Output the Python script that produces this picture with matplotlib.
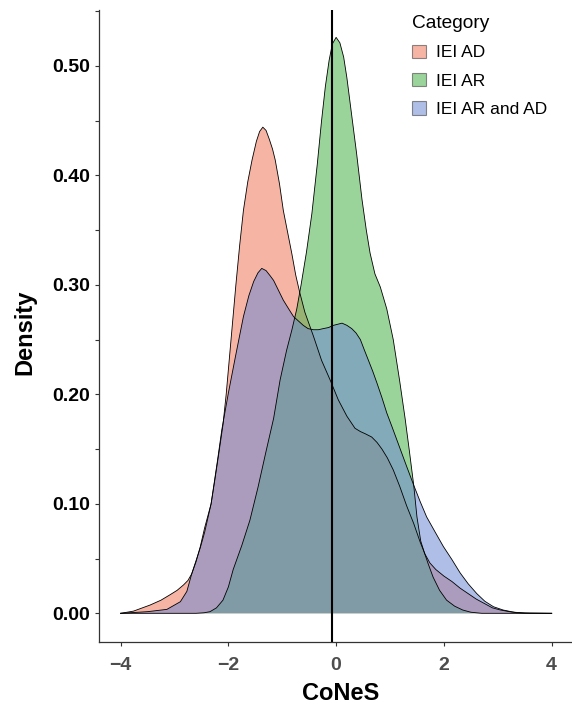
import matplotlib
matplotlib.use('Agg')
import matplotlib.pyplot as plt
from matplotlib.patches import Patch
from matplotlib.ticker import MultipleLocator, FormatStrFormatter

plt.rcParams['font.family'] = ['Liberation Sans', 'DejaVu Sans']

# density curves (CoNeS value, density)
ad_x = [-4.0, -3.76, -3.45, -3.25, -3.08, -2.95, -2.83, -2.75, -2.68, -2.6, -2.52, -2.44,
        -2.38, -2.32, -2.25, -2.18, -2.1, -2.04, -1.95, -1.86, -1.79, -1.72, -1.64, -1.56,
        -1.48, -1.42, -1.36, -1.3, -1.24, -1.18, -1.13, -1.05, -0.98, -0.9, -0.82, -0.75,
        -0.68, -0.58, -0.42, -0.27, -0.11, 0.04, 0.2, 0.35, 0.45, 0.54, 0.66, 0.76, 0.85,
        0.95, 1.06, 1.18, 1.31, 1.44, 1.56, 1.65, 1.74, 1.85, 2.0, 2.15, 2.3, 2.45, 2.6,
        2.75, 2.9, 3.05, 3.25, 3.5, 4.0]
ad_y = [0.0, 0.002, 0.0076, 0.012, 0.017, 0.021, 0.026, 0.030, 0.036, 0.047, 0.061, 0.078,
        0.089, 0.100, 0.122, 0.145, 0.172, 0.200, 0.250, 0.300, 0.336, 0.368, 0.394, 0.414,
        0.431, 0.440, 0.444, 0.441, 0.433, 0.424, 0.414, 0.392, 0.368, 0.348, 0.328, 0.309,
        0.294, 0.275, 0.253, 0.231, 0.213, 0.195, 0.180, 0.169, 0.166, 0.164, 0.161, 0.156,
        0.150, 0.142, 0.131, 0.116, 0.098, 0.082, 0.065, 0.054, 0.046, 0.040, 0.034, 0.029,
        0.023, 0.018, 0.013, 0.009, 0.005, 0.003, 0.0012, 0.0003, 0.0]

ar_x = [-4.0, -2.6, -2.45, -2.34, -2.22, -2.1, -2.0, -1.91, -1.75, -1.6, -1.45, -1.3, -1.16,
        -1.04, -0.92, -0.82, -0.73, -0.65, -0.55, -0.45, -0.35, -0.27, -0.2, -0.13, -0.07,
        0.0, 0.07, 0.14, 0.2, 0.26, 0.32, 0.38, 0.48, 0.56, 0.63, 0.72, 0.82, 0.94, 1.06,
        1.18, 1.28, 1.36, 1.44, 1.5, 1.57, 1.64, 1.71, 1.8, 1.92, 2.05, 2.2, 2.35, 2.5, 2.7,
        4.0]
ar_y = [0.0, 0.0, 0.0005, 0.0015, 0.005, 0.012, 0.024, 0.040, 0.062, 0.085, 0.115, 0.148,
        0.178, 0.213, 0.240, 0.259, 0.278, 0.300, 0.330, 0.365, 0.410, 0.450, 0.481, 0.505,
        0.520, 0.526, 0.521, 0.508, 0.489, 0.466, 0.443, 0.420, 0.378, 0.350, 0.329, 0.310,
        0.298, 0.278, 0.250, 0.212, 0.178, 0.148, 0.117, 0.088, 0.066, 0.055, 0.045, 0.033,
        0.021, 0.012, 0.0065, 0.003, 0.001, 0.0, 0.0]

both_x = [-4.0, -3.5, -3.14, -2.89, -2.77, -2.68, -2.6, -2.52, -2.44, -2.32, -2.2, -2.12,
          -2.0, -1.87, -1.72, -1.62, -1.53, -1.45, -1.38, -1.3, -1.22, -1.16, -1.07, -0.98,
          -0.88, -0.79, -0.7, -0.61, -0.52, -0.42, -0.33, -0.24, -0.14, -0.05, 0.03, 0.11,
          0.2, 0.29, 0.37, 0.45, 0.52, 0.60, 0.68, 0.76, 0.85, 0.94, 1.04, 1.13, 1.22, 1.31,
          1.44, 1.56, 1.68, 1.84, 1.99, 2.15, 2.30, 2.45, 2.61, 2.76, 2.92, 3.1, 3.35, 3.6, 4.0]
both_y = [0.0, 0.0015, 0.0036, 0.0106, 0.020, 0.036, 0.048, 0.060, 0.074, 0.100, 0.140,
          0.168, 0.201, 0.234, 0.271, 0.290, 0.303, 0.311, 0.315, 0.313, 0.308, 0.304, 0.295,
          0.286, 0.278, 0.271, 0.267, 0.263, 0.260, 0.259, 0.259, 0.260, 0.261, 0.263, 0.264,
          0.265, 0.263, 0.260, 0.256, 0.250, 0.241, 0.231, 0.221, 0.210, 0.197, 0.183, 0.170,
          0.158, 0.146, 0.134, 0.117, 0.102, 0.088, 0.074, 0.061, 0.049, 0.037, 0.027, 0.018,
          0.011, 0.006, 0.003, 0.0005, 0.0001, 0.0]

categories = ['IEI AD', 'IEI AR', 'IEI AR and AD']
colors = ['#EF775B', '#49B149', '#6E89D2']
fill_alpha = 0.55
vline_x = -0.07
x_ticks = [-4, -2, 0, 2, 4]

fig = plt.figure(figsize=(5.72, 7.05), dpi=100)
ax = fig.add_axes([99 / 572, 63 / 705, 473 / 572, 632 / 705])

# groups drawn in factor order, each fill followed by its outline
series = [(ad_x, ad_y), (ar_x, ar_y), (both_x, both_y)]
for (xs, ys), c in zip(series, colors):
    ax.fill_between(xs, 0, ys, facecolor=c, alpha=fill_alpha, linewidth=0)
    ax.plot(xs, ys, color='black', linewidth=0.6)

ax.axvline(vline_x, color='black', linewidth=1.5)

ax.set_xlim(-4.4, 4.377)
ax.set_ylim(-0.0262, 0.551)
ax.set_xticks(x_ticks)
ax.yaxis.set_major_locator(MultipleLocator(0.1))
ax.yaxis.set_minor_locator(MultipleLocator(0.05))
ax.yaxis.set_major_formatter(FormatStrFormatter('%.2f'))

for side in ['top', 'right']:
    ax.spines[side].set_visible(False)
for side in ['left', 'bottom']:
    ax.spines[side].set_color('#333333')
    ax.spines[side].set_linewidth(0.9)

ax.tick_params(axis='both', which='both', color='#333333', width=0.8, length=3)
ax.tick_params(axis='y', labelsize=14, labelcolor='black', pad=3.5)
ax.tick_params(axis='x', labelsize=14, labelcolor='#4D4D4D', pad=8)
for lab in ax.get_xticklabels() + ax.get_yticklabels():
    lab.set_fontweight('bold')

ax.set_xlabel('CoNeS', fontsize=17, fontweight='bold', va='center')
ax.xaxis.set_label_coords(0.51, -0.081)
ax.set_ylabel('Density', fontsize=17, fontweight='bold', va='center')
ax.yaxis.set_label_coords(-0.156, 0.49)

handles = [Patch(facecolor=c, alpha=fill_alpha, edgecolor='#333333', linewidth=0.8)
           for c in colors]
leg = ax.legend(handles, categories, title='Category', loc='upper left',
                bbox_to_anchor=(412 / 572, 1 - 15 / 705), bbox_transform=fig.transFigure,
                frameon=False, fontsize=12.5, title_fontsize=13.8, borderpad=0,
                borderaxespad=0, handlelength=0.82, handleheight=0.82, handletextpad=0.55,
                labelspacing=0.72, alignment='left')
for h in leg.legend_handles:
    h.set_edgecolor('#333333')

fig.savefig('out.png', dpi=100, facecolor='white')
